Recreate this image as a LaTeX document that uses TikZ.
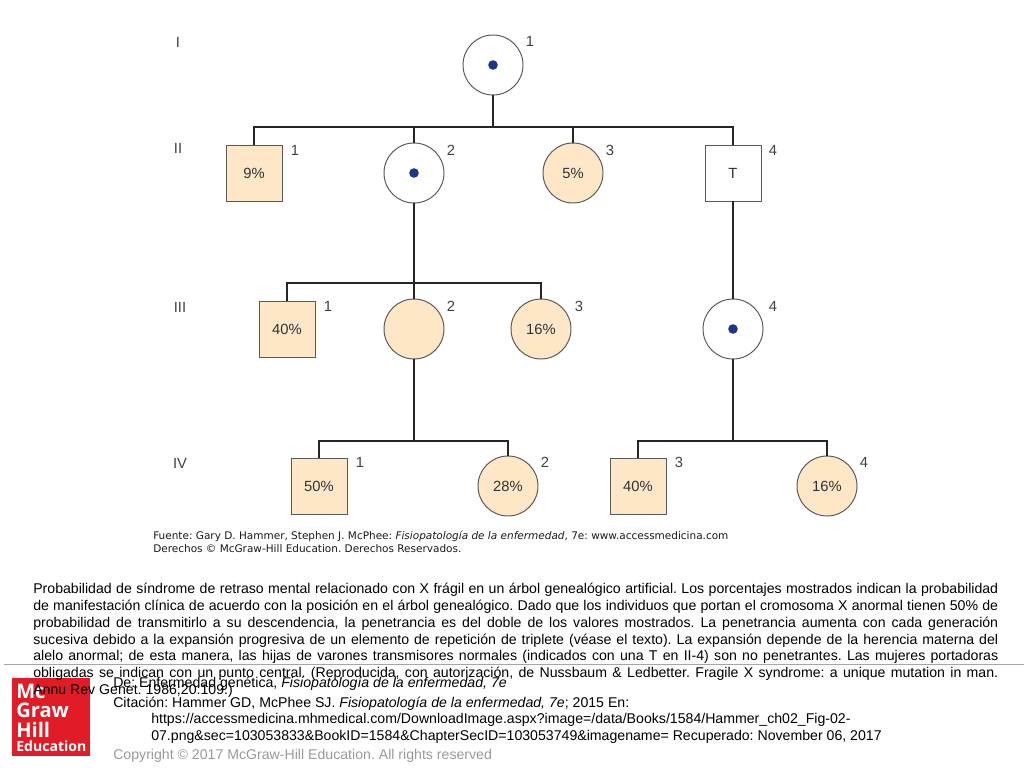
\documentclass[tikz,border=0pt]{standalone}
\usepackage{fontspec}
\setmainfont{Liberation Sans}
\newfontfamily\fuentefont{DejaVu Sans}
\newfontfamily\logofont{Open Sans}
\usetikzlibrary{positioning}
\definecolor{peach}{RGB}{253,231,198}
\definecolor{logored}{RGB}{226,28,38}
\definecolor{dotblue}{RGB}{28,54,140}
\frenchspacing
\begin{document}
\begin{tikzpicture}[on grid]
	\tikzstyle{base} = [draw=black!65, line width=0.7pt, inner sep=0pt, font=\fontsize{10.5}{12}\selectfont, text=black!80]
	\tikzstyle{male} = [base, rectangle, minimum size=1.4cm]
	\tikzstyle{female} = [base, circle, minimum size=1.5cm]
	\tikzstyle{spot} = [circle, fill=dotblue, minimum size=0.24cm, inner sep=0pt]
	\tikzstyle{num} = [inner sep=0pt, font=\fontsize{10.5}{12}\selectfont, text=black!75]
	\tikzstyle{link} = [line width=1.6pt, black!85]
	\tikzstyle{para} = [anchor=north west, inner sep=0pt, font=\fontsize{10.05}{12}\selectfont]
	\tikzstyle{logotext} = [anchor=base west, inner sep=0pt, text=white, font=\logofont\bfseries\fontsize{14.3}{15}\selectfont]
	\useasboundingbox (0,0) rectangle (25.6,-19.2);

	% logo and rule
	\node [fill=logored, minimum size=1.95cm, inner sep=0pt] (logo) at (1.275,-17.925) {};
	\node [logotext] (mc) at (0.4,-17.45) {Mc};
	\node [logotext] (graw) at (0.4,-17.925) {Graw};
	\node [logotext] (hill) at (0.4,-18.425) {Hill};
	\node [logotext, font=\logofont\bfseries\fontsize{10}{10}\selectfont] (educ) at (0.4,-18.775) {Education};
	\coordinate (rulea) at (0.1,-16.6);
	\coordinate (ruleb) at (25.6,-16.6);
	\draw [black!35, line width=0.6pt] (rulea) -- (ruleb);

	% generation I and II
	\node [female] (i1) at (12.325,-1.625) {};
	\node [spot] (di1) at (i1) {};
	\node [female, below left = 2.7cm and 1.975cm of i1] (ii2) {};
	\node [spot] (dii2) at (ii2) {};
	\node [male, fill=peach, left = 4cm of ii2] (ii1) {9\%};
	\node [female, fill=peach, right = 3.975cm of ii2] (ii3) {5\%};
	\node [male, right = 4cm of ii3] (ii4) {T};

	% generation III
	\node [female, fill=peach, below = 3.9cm of ii2] (iii2) {};
	\node [male, fill=peach, left = 3.175cm of iii2] (iii1) {40\%};
	\node [female, fill=peach, right = 3.175cm of iii2] (iii3) {16\%};
	\node [female, below = 3.9cm of ii4] (iii4) {};
	\node [spot] (diii4) at (iii4) {};

	% generation IV
	\node [male, fill=peach, below left = 3.925cm and 2.375cm of iii2] (iv1) {50\%};
	\node [female, fill=peach, right = 4.725cm of iv1] (iv2) {28\%};
	\node [male, fill=peach, right = 3.25cm of iv2] (iv3) {40\%};
	\node [female, fill=peach, right = 4.725cm of iv3] (iv4) {16\%};

	% junctions
	\node [coordinate, below = 1.55cm of i1] (ci1) {};
	\node [coordinate, above = 1.15cm of ii1] (cii1) {};
	\node [coordinate, above = 1.15cm of ii2] (cii2) {};
	\node [coordinate, above = 1.15cm of ii3] (cii3) {};
	\node [coordinate, above = 1.15cm of ii4] (cii4) {};
	\node [coordinate, above = 1.15cm of iii1] (ciii1) {};
	\node [coordinate, above = 1.15cm of iii3] (ciii3) {};
	\node [coordinate, above = 1.125cm of iv1] (civ1) {};
	\node [coordinate, above = 1.125cm of iv2] (civ2) {};
	\node [coordinate, above = 1.125cm of iv3] (civ3) {};
	\node [coordinate, above = 1.125cm of iv4] (civ4) {};
	\node [coordinate, below = 2.8cm of iii2] (ciii2b) {};
	\node [coordinate, below = 2.8cm of iii4] (ciii4b) {};

	\draw [link] (ii1) -- (cii1) -- (cii4) -- (ii4);
	\draw [link] (i1) -- (ci1);
	\draw [link] (cii2) -- (ii2);
	\draw [link] (cii3) -- (ii3);
	\draw [link] (ii2) -- (iii2);
	\draw [link] (iii1) -- (ciii1) -- (ciii3) -- (iii3);
	\draw [link] (ii4) -- (iii4);
	\draw [link] (iii2) -- (ciii2b);
	\draw [link] (iii4) -- (ciii4b);
	\draw [link] (iv1) -- (civ1) -- (civ2) -- (iv2);
	\draw [link] (iv3) -- (civ3) -- (civ4) -- (iv4);

	% generation numerals
	\node [num, above left = 0.575cm and 7.875cm of i1] (gi) {I};
	\node [num, above left = 0.625cm and 1.9cm of ii1] (gii) {II};
	\node [num, above left = 0.55cm and 2.675cm of iii1] (giii) {III};
	\node [num, above left = 0.575cm and 3.475cm of iv1] (giv) {IV};

	% individual numbers
	\node [num, above right = 0.6cm and 0.925cm of i1] (ni1) {1};
	\node [num, above right = 0.575cm and 1.025cm of ii1] (nii1) {1};
	\node [num, above right = 0.575cm and 0.925cm of ii2] (nii2) {2};
	\node [num, above right = 0.575cm and 0.925cm of ii3] (nii3) {3};
	\node [num, above right = 0.575cm and 1cm of ii4] (nii4) {4};
	\node [num, above right = 0.575cm and 1.025cm of iii1] (niii1) {1};
	\node [num, above right = 0.575cm and 0.925cm of iii2] (niii2) {2};
	\node [num, above right = 0.575cm and 0.95cm of iii3] (niii3) {3};
	\node [num, above right = 0.575cm and 1cm of iii4] (niii4) {4};
	\node [num, above right = 0.6cm and 1.025cm of iv1] (niv1) {1};
	\node [num, above right = 0.6cm and 0.925cm of iv2] (niv2) {2};
	\node [num, above right = 0.6cm and 1.025cm of iv3] (niv3) {3};
	\node [num, above right = 0.6cm and 0.925cm of iv4] (niv4) {4};

	% texts
	\node [anchor=north west, inner sep=0pt, align=left, text=black!90, font=\fuentefont\fontsize{7.46}{9.2}\selectfont] (fuente) at (3.825,-13.27) {Fuente: Gary D. Hammer, Stephen J. McPhee: \textit{Fisiopatología de la enfermedad}, 7e: www.accessmedicina.com\\Derechos © McGraw-Hill Education. Derechos Reservados.};
	\node [para, text width=24.125cm, align=justify] (resumen) at (0.825,-14.57) {Probabilidad de síndrome de retraso mental relacionado con X frágil en un árbol genealógico artificial. Los porcentajes mostrados indican la probabilidad\linebreak
	de manifestación clínica de acuerdo con la posición en el árbol genealógico. Dado que los individuos que portan el cromosoma X anormal tienen 50\% de\linebreak
	probabilidad de transmitirlo a su descendencia, la penetrancia es del doble de los valores mostrados. La penetrancia aumenta con cada generación\linebreak
	sucesiva debido a la expansión progresiva de un elemento de repetición de triplete (véase el texto). La expansión depende de la herencia materna del\linebreak
	alelo anormal; de esta manera, las hijas de varones transmisores normales (indicados con una T en II-4) son no penetrantes. Las mujeres portadoras\linebreak
	obligadas se indican con un punto central. (Reproducida, con autorización, de Nussbaum \& Ledbetter. Fragile X syndrome: a unique mutation in man.\linebreak
	Annu Rev Genet. 1986;20:109.)};
	\node [para] (de) at (2.825,-16.92) {De: Enfermedad genética, \textit{Fisiopatología de la enfermedad, 7e}};
	\node [para] (cita) at (2.825,-17.425) {Citación: Hammer GD, McPhee SJ. \textit{Fisiopatología de la enfermedad, 7e}; 2015 En:};
	\node [para, align=left] (enlace) at (3.775,-17.83) {https://accessmedicina.mhmedical.com/DownloadImage.aspx?image=/data/Books/1584/Hammer\_ch02\_Fig-02-\\07.png\&sec=103053833\&BookID=1584\&ChapterSecID=103053749\&imagename= Recuperado: November 06, 2017};
	\node [para, text=black!40] (copy) at (2.825,-18.72) {Copyright © 2017 McGraw-Hill Education. All rights reserved};
\end{tikzpicture}
\end{document}
